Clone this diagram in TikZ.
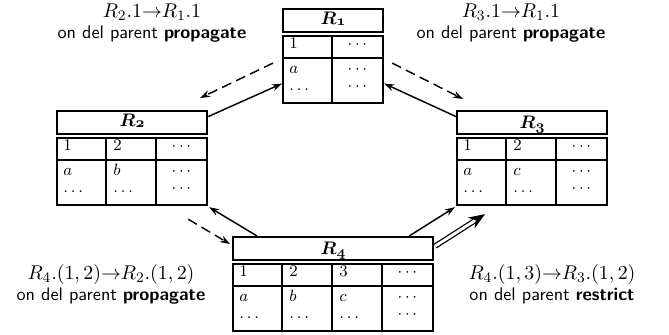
\documentclass[tikz,border=0pt]{standalone}
\usepackage{fontspec}
\usetikzlibrary{arrows.meta,calc}
\newcommand\pxu{0.55pt}
\newcommand\tR[1]{{\usefont{OML}{cmm}{b}{it}R}\raisebox{-1pt}{\fontsize{8.5}{9}\usefont{OML}{cmm}{b}{it}#1}}
\newcommand\mline[1]{{\fontsize{11.4}{11.5}\selectfont$#1$}}
% #1 name, #2 left x, #3 top y, #4 number of columns, #5 title, #6 cells
\newcommand\mktab[6]{%
  \node[titlebox, minimum width=#4*50*\pxu] (#1t) at (#2,#3) {#5};
  \node[tabbox, minimum width=#4*50*\pxu] (#1b) at (#2,#3+27) {};
  \draw[innerline] (#2,#3+50) -- (#2+#4*50,#3+50);
  \foreach \h/\a/\b/\p [count=\i] in {#6} {%
    \ifnum\i>1 \draw[innerline] (#2+\i*50-50,#3+27) -- (#2+\i*50-50,#3+94);\fi
    \node[cell] (#1h\i) at (#2+\i*50-50+7,#3+41) {\makebox[19.8pt][\p]{$\h$}};
    \node[cell] (#1a\i) at (#2+\i*50-50+7,#3+66) {\makebox[19.8pt][\p]{$\a$}};
    \node[cell] (#1c\i) at (#2+\i*50-50+7,#3+83) {\makebox[19.8pt][\p]{$\b$}};
  }%
}
\begin{document}
\begin{tikzpicture}[x=\pxu,y=-\pxu,
  titlebox/.style={draw,line width=1.2pt,minimum height=23*\pxu,inner sep=0pt,
    anchor=north west,text height=6.9pt,text depth=0pt,font=\fontsize{10}{12}\selectfont},
  tabbox/.style={draw,line width=1.2pt,minimum height=67*\pxu,inner sep=0pt,anchor=north west},
  innerline/.style={line width=0.9pt},
  cell/.style={inner sep=0pt,anchor=base west,font=\fontsize{9}{11}\selectfont},
  conn/.style={line width=0.8pt,-{Stealth[length=5.5pt,width=3.8pt]}},
  dconn/.style={conn,dash pattern=on 5.5pt off 3pt},
  dblconn/.style={double,double distance=1.6pt,line width=0.7pt,-{Stealth[length=9pt,width=7pt]}},
  lbl/.style={align=center,inner sep=0pt,font=\sffamily\fontsize{10}{11.5}\selectfont}]
\useasboundingbox (0,0) rectangle (669,335);

\mktab{r1}{282}{8}{2}{\raisebox{1.5pt}{\tR{1}}}{1/a/\ldots/l, \cdots/\cdots/\cdots/c}
\mktab{r2}{56}{110}{3}{\raisebox{1.5pt}{\tR{2}}}{1/a/\ldots/l, 2/b/\ldots/l, \cdots/\cdots/\cdots/c}
\mktab{r3}{456}{110}{3}{\tR{3}}{1/a/\ldots/l, 2/c/\ldots/l, \cdots/\cdots/\cdots/c}
\mktab{r4}{232}{236}{4}{\tR{4}}{1/a/\ldots/l, 2/b/\ldots/l, 3/c/\ldots/l, \cdots/\cdots/\cdots/c}

% connectors
\draw[dconn] ($(r1b.west)+(-9,-6.5)$) -- ($(r2t.north east)+(-8,-12)$);
\draw[conn] ($(r2t.east)+(0,-6)$) -- ($(r1b.west)+(0,14)$);
\draw[dconn] ($(r1b.east)+(8,-6.5)$) -- ($(r3t.north west)+(7,-11)$);
\draw[conn] ($(r3t.west)+(0,-6)$) -- ($(r1b.east)+(0,14)$);
\draw[dconn] ($(r2b.south east)+(-20,13)$) -- ($(r4t.west)+(-2,-4.5)$);
\draw[conn] ($(r4t.north west)+(25,0)$) -- ($(r2b.south east)+(1,1)$);
\draw[conn] ($(r4t.north east)+(-25,0)$) -- ($(r3b.south west)+(-1,1)$);
\draw[dblconn] ($(r4t.east)+(1,-2.5)$) -- ($(r3b.south west)+(29,8)$);

% labels
\node[lbl] (l1) at (152,23.5) {\mline{R_2.1{\rightarrow}R_1.1}\\on del parent \textbf{propagate}};
\node[lbl] (l2) at (511,23.5) {\mline{R_3.1{\rightarrow}R_1.1}\\on del parent \textbf{propagate}};
\node[lbl] (l3) at (111,284) {\mline{R_4.(1,2){\rightarrow}R_2.(1,2)}\\on del parent \textbf{propagate}};
\node[lbl] (l4) at (552,284) {\mline{R_4.(1,3){\rightarrow}R_3.(1,2)}\\on del parent \textbf{restrict}};
\end{tikzpicture}
\end{document}
